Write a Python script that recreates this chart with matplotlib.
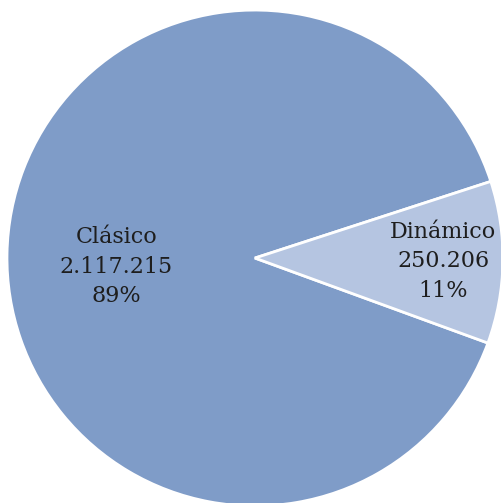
import numpy as np
import matplotlib.pyplot as plt

# Datos del gráfico
categorias = ["Clásico", "Dinámico"]
valores = [2117215, 250206]
colores = ["#7f9cc8", "#b5c5e1"]

fig = plt.figure(figsize=(5.02, 5.03), dpi=100)
ax = fig.add_axes([0.0139, -0.006, 0.988, 0.986])

wedges, _ = ax.pie(valores, colors=colores, startangle=18, counterclock=True,
                   radius=1, wedgeprops=dict(edgecolor="white", linewidth=2))
ax.set_xlim(-1, 1)
ax.set_ylim(-1, 1)
ax.set_aspect("equal")
ax.axis("off")

total = sum(valores)
distancias = [0.56, 0.76]
for w, cat, val, d in zip(wedges, categorias, valores, distancias):
    ang = np.deg2rad((w.theta1 + w.theta2) / 2)
    if cat == "Clásico":
        ang = np.deg2rad(183.5)
    texto = f"{cat}\n{val:,}".replace(",", ".") + f"\n{round(100 * val / total)}%"
    ax.text(d * np.cos(ang), d * np.sin(ang), texto, ha="center", va="center",
            fontsize=16, family="DejaVu Serif", color="#1e1e1e", linespacing=1.45)

fig.savefig("out.png", dpi=100)
